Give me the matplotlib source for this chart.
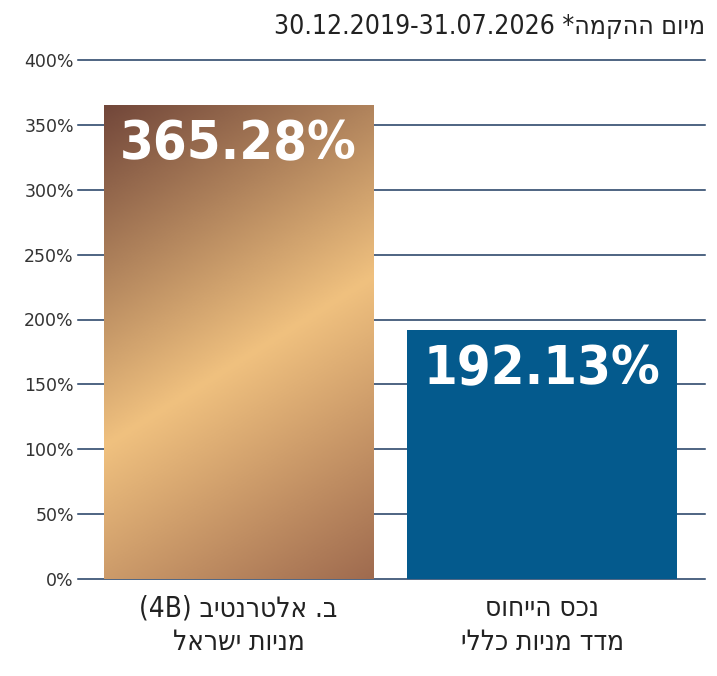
import re
import numpy as np
import matplotlib
matplotlib.use("Agg")
import matplotlib.pyplot as plt
from matplotlib.colors import LinearSegmentedColormap

# ---- data ----
categories = ["ב. אלטרנטיב (4B)\nמניות ישראל", "נכס הייחוס\nמדד מניות כללי"]
values = [365.28, 192.13]
value_labels = ["365.28%", "192.13%"]
yticks = [0, 50, 100, 150, 200, 250, 300, 350, 400]
ytick_labels = [f"{v}%" for v in yticks]
title = "מיום ההקמה* 30.12.2019-31.07.2026"


def visual_line(line):
    """Logical Hebrew (RTL base) -> visual left-to-right order."""
    tokens = re.findall(
        r"[\u0590-\u05FF]+|[A-Za-z0-9][A-Za-z0-9.\-]*[A-Za-z0-9]|[A-Za-z0-9]|.", line)
    res = []
    for t in tokens:
        if re.match(r"[\u0590-\u05FF]", t):
            res.append(t[::-1])
        elif t == "(":
            res.append(")")
        elif t == ")":
            res.append("(")
        else:
            res.append(t)
    return "".join(res[::-1])


def vis_label(s):
    return "\n".join(visual_line(l) for l in s.split("\n"))


plt.rcParams["font.family"] = ["DejaVu Sans"]

fig = plt.figure(figsize=(7.17, 6.76), dpi=100)
ax = fig.add_axes([78 / 717, 1 - 579 / 676, (705 - 78) / 717, (579 - 60) / 676])

x = np.arange(len(values))
width = 0.887
bar_colors = ["#c99a6a", "#045a8d"]
bars = ax.bar(x, values, width=width, color=bar_colors, zorder=3, linewidth=0)

# gradient on first bar (diagonal bronze sheen)
cmap = LinearSegmentedColormap.from_list(
    "bronze", [(0.0, "#72473a"), (0.53, "#f0c17f"), (1.0, "#9f6b4f")])
nu, nv = 200, 300
u = np.linspace(0, 1, nu)
v = np.linspace(0, 1, nv)
U, V = np.meshgrid(u, v)
T = 0.63 * 269 * U + 474 * V
T = (T - T.min()) / (T.max() - T.min())
b0 = bars[0]
x0 = b0.get_x()
ax.imshow(T, cmap=cmap, extent=[x0, x0 + b0.get_width(), 0, values[0]],
          origin="upper", aspect="auto", zorder=3.5, clip_path=b0,
          interpolation="bilinear")
b0.set_facecolor("none")
ax.set_xlim(-0.529, 1.537)
ax.set_ylim(0, 400)

# value labels inside bars
for xi, val, lab in zip(x, values, value_labels):
    ax.annotate(lab, (xi, val), xytext=(0, -28.5), textcoords="offset points",
                ha="center", va="center", color="white", fontsize=39,
                fontweight="black", fontstretch="condensed", zorder=5)

ax.set_yticks(yticks)
ax.set_yticklabels(ytick_labels, fontsize=12.5, color="#333333")
ax.yaxis.grid(True, color="#1e3a60", linewidth=1.1, zorder=0)
for gl in ax.get_ygridlines():
    gl.set_clip_on(False)
ax.tick_params(axis="y", length=0, pad=3)
ax.tick_params(axis="x", length=0, pad=11)
ax.set_xticks(x)
ax.set_xticklabels([vis_label(c) for c in categories], fontsize=20,
                   fontstretch="condensed", color="#222222", linespacing=1.25)
for s in ax.spines.values():
    s.set_visible(False)
ax.set_axisbelow(True)

fig.text(705 / 717, 1 - 27 / 676, visual_line(title), ha="right", va="center",
         fontsize=19, fontstretch="condensed", color="#222222")

fig.savefig("out.png", dpi=100)
